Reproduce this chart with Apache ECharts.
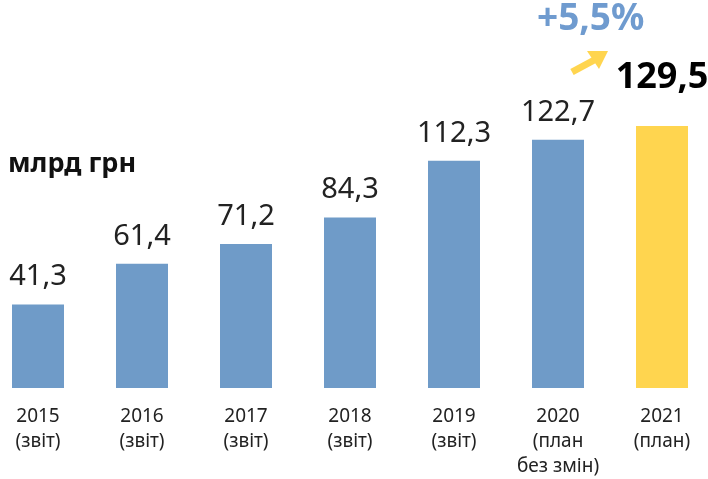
<!DOCTYPE html>
<html>
<head>
<meta charset="utf-8">
<script src="https://cdn.jsdelivr.net/npm/echarts@6/dist/echarts.min.js"></script>
<style>
  html, body { margin: 0; padding: 0; background: #fff; }
  #chart { width: 708px; height: 479px; }
</style>
</head>
<body>
<div id="chart"></div>
<script>
  const categories = ['2015\n(звіт)', '2016\n(звіт)', '2017\n(звіт)', '2018\n(звіт)', '2019\n(звіт)', '2020\n(план\nбез змін)', '2021\n(план)'];
  const values = [41.3, 61.4, 71.2, 84.3, 112.3, 122.7, 129.5];
  const unitLabel = 'млрд грн';
  const growthLabel = '+5,5%';

  const font = '"Noto Sans", sans-serif';
  const blue = '#6f9bc8';
  const yellow = '#ffd54f';
  const last = values.length - 1;

  const chart = echarts.init(document.getElementById('chart'));
  const option = {
    animation: false,
    grid: { left: -14, right: -6, top: 84.5, bottom: 91, outerBoundsMode: 'none' },
    xAxis: {
      type: 'category',
      data: categories,
      axisLine: { show: false },
      axisTick: { show: false },
      axisLabel: {
        color: '#222',
        fontFamily: font,
        fontSize: 19,
        lineHeight: 25,
        margin: 16,
        interval: 0
      }
    },
    yAxis: {
      type: 'value',
      min: 0,
      max: 150,
      show: false
    },
    series: [{
      type: 'bar',
      barWidth: 52,
      data: values.map((v, i) => ({
        value: v,
        itemStyle: { color: i === last ? yellow : blue },
        label: i === last ? {
          fontWeight: 'bold',
          fontSize: 36,
          color: '#000',
          distance: 30
        } : {}
      })),
      label: {
        show: true,
        position: 'top',
        distance: 13,
        fontFamily: font,
        fontSize: 29,
        color: '#222',
        formatter: p => String(p.value).replace('.', ',')
      }
    }],
    graphic: [
      {
        type: 'text',
        left: 8,
        top: 151,
        style: { text: unitLabel, font: 'bold 27px ' + font, fill: '#111' }
      },
      {
        type: 'text',
        left: 537,
        top: 1,
        style: { text: growthLabel, font: 'bold 37px ' + font, fill: '#6f9bcf' }
      },
      {
        type: 'line',
        shape: { x1: 572, y1: 72, x2: 598, y2: 58 },
        style: { stroke: yellow, lineWidth: 7 }
      },
      {
        type: 'polygon',
        shape: { points: [[608, 51], [587, 51], [599, 69]] },
        style: { fill: yellow }
      }
    ]
  };
  chart.setOption(option);
</script>
</body>
</html>
